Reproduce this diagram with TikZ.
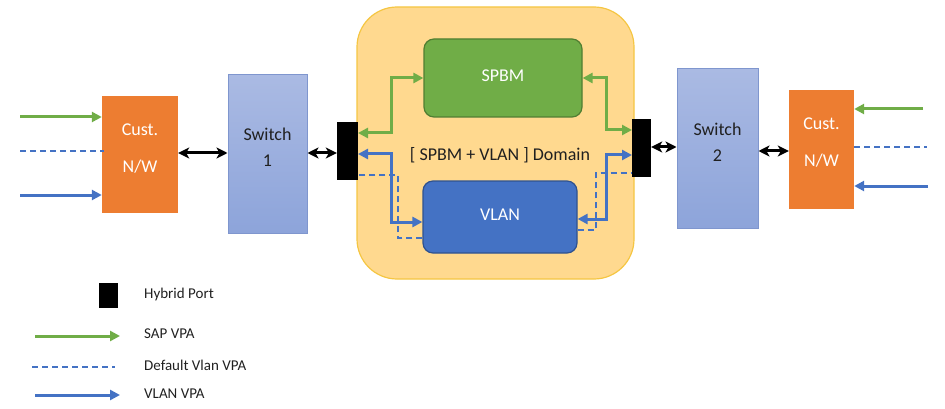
\documentclass[tikz,border=0pt]{standalone}
\usepackage{fontspec}
\setmainfont{Carlito}
\usetikzlibrary{arrows.meta}
\definecolor{grn}{HTML}{70AD47}
\definecolor{grnd}{HTML}{507E32}
\definecolor{blu}{HTML}{4472C4}
\definecolor{blud}{HTML}{2F528F}
\definecolor{org}{HTML}{ED7D31}
\definecolor{domfill}{HTML}{FFD98F}
\definecolor{domline}{HTML}{F5C643}
\definecolor{swtop}{HTML}{AABAE3}
\definecolor{swbot}{HTML}{8DA4DA}
\definecolor{swline}{HTML}{7F96CE}
\definecolor{txt}{HTML}{202020}
\tikzset{
  big/.style={font=\fontsize{18}{22}\selectfont},
  small/.style={font=\fontsize{15}{18}\selectfont, text=txt, anchor=west, inner sep=0pt},
  custbox/.style={fill=org, draw=none, inner sep=0pt},
  swbox/.style={top color=swtop, bottom color=swbot, draw=swline, line width=1pt, inner sep=0pt},
  portbox/.style={fill=black, draw=none, inner sep=0pt},
  domtip/.style={arrows={-Triangle[length=10pt,width=10pt]}},
  bitip/.style={arrows={Triangle[length=10pt,width=10pt]-Triangle[length=10pt,width=10pt]}},
  blktip/.style={arrows={Stealth[length=11pt,width=11pt,inset=3pt]-Stealth[length=11pt,width=11pt,inset=3pt]}, line width=3pt, draw=black},
  gline/.style={draw=grn, line width=3pt},
  bline/.style={draw=blu, line width=3pt},
  dline/.style={draw=blu, line width=1.7pt, dash pattern=on 6pt off 4pt},
  ctext/.style={big, text=white, align=center, inner sep=0pt},
  stext/.style={big, text=txt, align=center, inner sep=0pt},
}
\begin{document}
\begin{tikzpicture}[x=1pt,y=-1pt]
\useasboundingbox (0,0) rectangle (945,409);
% domain
\node[fill=domfill, draw=domline, line width=1.2pt, rounded corners=40pt, minimum width=277pt, minimum height=272pt, inner sep=0pt] (dom) at (495.5,143) {};
\node[fill=grn, draw=grnd, line width=1.2pt, rounded corners=10pt, minimum width=158pt, minimum height=78pt, inner sep=0pt, big, text=white] (spbm) at (503,78) {\raisebox{5pt}{SPBM}};
\node[fill=blu, draw=blud, line width=1.2pt, rounded corners=10pt, minimum width=154pt, minimum height=72pt, inner sep=0pt, big, text=white] (vlan) at (500,217) {\raisebox{5pt}{VLAN}};
\node[big, text=txt, inner sep=0pt] (domlabel) at (500,155) {[ SPBM + VLAN ] Domain};
% boxes
\node[custbox, minimum width=76pt, minimum height=117pt] (cust1) at (140,154.5) {};
\node[ctext] (tcust1) at (140,148.5) {Cust.\\[15pt]N/W};
\node[swbox, minimum width=79pt, minimum height=158pt] (sw1) at (267.5,154) {};
\node[stext] (tsw1) at (267.5,147) {Switch\\[4pt]1};
\node[swbox, minimum width=81pt, minimum height=159pt] (sw2) at (717.5,148.5) {};
\node[stext] (tsw2) at (717.5,142) {Switch\\[4pt]2};
\node[custbox, minimum width=65pt, minimum height=119pt] (cust2) at (821.5,149.5) {};
\node[ctext] (tcust2) at (821.5,143) {Cust.\\[15pt]N/W};
% domain connectors
\draw[gline, bitip] (spbm.west) -- (391,78) -- (391,133) -- (358,133);
\draw[gline, bitip] (spbm.east) -- (606,78) -- (606,130) -- (632,130);
\draw[bline, bitip] (vlan.west |- 0,222) -- (391,222) -- (391,154) -- (358,154);
\draw[bline, bitip] (vlan.east |- 0,219) -- (606,219) -- (606,155) -- (632,155);
\draw[dline] (vlan.west |- 0,238) -- (398,238) -- (398,175) -- (350,175);
\draw[dline] (vlan.east |- 0,230) -- (596,230) -- (596,173) -- (640,173);
% ports
\node[portbox, minimum width=21pt, minimum height=58pt] (port1) at (347.5,151) {};
\node[portbox, minimum width=19pt, minimum height=58pt] (port2) at (641.5,148) {};
% black links
\draw[blktip] (cust1.east |- 0,153) -- (sw1.west |- 0,153);
\draw[blktip] (sw1.east |- 0,153) -- (port1.west |- 0,153);
\draw[blktip] (port2.east |- 0,147) -- (sw2.west |- 0,147);
\draw[blktip] (sw2.east |- 0,151) -- (cust2.west |- 0,151);
% inputs
\coordinate (lg) at (20,117);
\coordinate (ld) at (20,151);
\coordinate (lb) at (20,195);
\coordinate (rg) at (923,109);
\coordinate (rd) at (927,147);
\coordinate (rb) at (928,186);
\draw[gline, domtip] (lg) -- (cust1.west |- lg);
\draw[dline] (ld) -- ([xshift=2pt]cust1.west |- ld);
\draw[bline, domtip] (lb) -- (cust1.west |- lb);
\draw[gline, domtip] (rg) -- (cust2.east |- rg);
\draw[dline] (cust2.east |- rd) -- (rd);
\draw[bline, domtip] (rb) -- (cust2.east |- rb);
% legend
\node[portbox, minimum width=19pt, minimum height=25pt] (lport) at (108.5,295.5) {};
\node[small] (lportt) at (144,294) {Hybrid Port};
\coordinate (l1a) at (35,336); \coordinate (l1b) at (120,336);
\draw[gline, domtip] (l1a) -- (l1b);
\node[small] (l1t) at (144,334) {SAP VPA};
\coordinate (l2a) at (32,367); \coordinate (l2b) at (115,367);
\draw[dline] (l2a) -- (l2b);
\node[small] (l2t) at (144,365) {Default Vlan VPA};
\coordinate (l3a) at (35,395); \coordinate (l3b) at (120,395);
\draw[bline, domtip] (l3a) -- (l3b);
\node[small] (l3t) at (144,394) {VLAN VPA};
\end{tikzpicture}
\end{document}
